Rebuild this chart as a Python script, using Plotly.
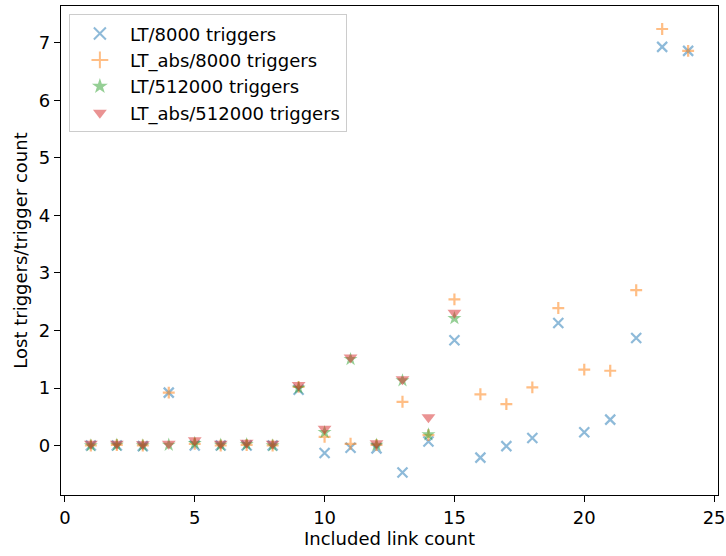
import plotly.graph_objects as go

links = list(range(1, 25))
lt_8000 = [0.0, 0.0, -0.01, 0.92, 0.0, 0.0, 0.0, 0.0, 0.97, -0.13, -0.04, -0.05, -0.47, 0.07, 1.83,
           -0.21, -0.01, 0.13, 2.13, 0.23, 0.45, 1.87, 6.93, 6.86]
lt_abs_8000 = [0.0, 0.01, 0.0, 0.92, 0.03, 0.0, 0.01, 0.0, 1.02, 0.15, 0.03, 0.01, 0.76, 0.18, 2.54,
               0.89, 0.72, 1.01, 2.39, 1.32, 1.30, 2.70, 7.24, 6.86]
links_512 = list(range(1, 16))
lt_512000 = [0.0, 0.01, 0.0, 0.01, 0.04, 0.01, 0.02, 0.0, 1.0, 0.23, 1.50, 0.01, 1.13, 0.19, 2.21]
lt_abs_512000 = [0.03, 0.03, 0.02, 0.03, 0.09, 0.03, 0.05, 0.03, 1.05, 0.29, 1.53, 0.04, 1.15, 0.49, 2.31]

font = dict(family="DejaVu Sans", size=18, color="black")

fig = go.Figure()
fig.add_trace(go.Scatter(x=links, y=lt_8000, mode="markers", name="LT/8000 triggers",
                         marker=dict(symbol="x-thin", size=10, opacity=0.5,
                                     color="#1f77b4", line=dict(width=2.2, color="#1f77b4"))))
fig.add_trace(go.Scatter(x=links, y=lt_abs_8000, mode="markers", name="LT_abs/8000 triggers",
                         marker=dict(symbol="cross-thin", size=8.5, opacity=0.5,
                                     color="#ff7f0e", line=dict(width=2.2, color="#ff7f0e"))))
fig.add_trace(go.Scatter(x=links_512, y=lt_512000, mode="markers", name="LT/512000 triggers",
                         marker=dict(symbol="star", size=10.5, opacity=0.5,
                                     color="#2ca02c", line=dict(width=0))))
fig.add_trace(go.Scatter(x=links_512, y=lt_abs_512000, mode="markers", name="LT_abs/512000 triggers",
                         marker=dict(symbol="triangle-down", size=12, opacity=0.5,
                                     color="#d62728", line=dict(width=0))))

axis_common = dict(showline=True, linecolor="black", linewidth=1.2, mirror=True,
                   ticks="outside", ticklen=6, tickwidth=1.2, tickcolor="black",
                   showgrid=False, zeroline=False, tickfont=font, automargin=False)

fig.update_layout(
    width=726, height=556,
    margin=dict(l=61, r=8, t=6, b=61),
    paper_bgcolor="white", plot_bgcolor="white",
    font=font,
    xaxis=dict(range=[-0.15, 25.15], tickmode="linear", tick0=0, dtick=5,
               title=dict(text="Included link count", font=font, standoff=4), **axis_common),
    yaxis=dict(range=[-0.86, 7.64], tickmode="linear", tick0=0, dtick=1,
               title=dict(text="Lost triggers/trigger count", font=font, standoff=6), **axis_common),
    legend=dict(x=0.012, y=0.983, xanchor="left", yanchor="top",
                bgcolor="rgba(255,255,255,0.8)", bordercolor="#cccccc", borderwidth=1,
                font=font, itemsizing="constant", itemwidth=50),
    showlegend=True,
)

fig.write_html("out.html", config={"displayModeBar": False},
               post_script="document.body.style.margin='0';")
